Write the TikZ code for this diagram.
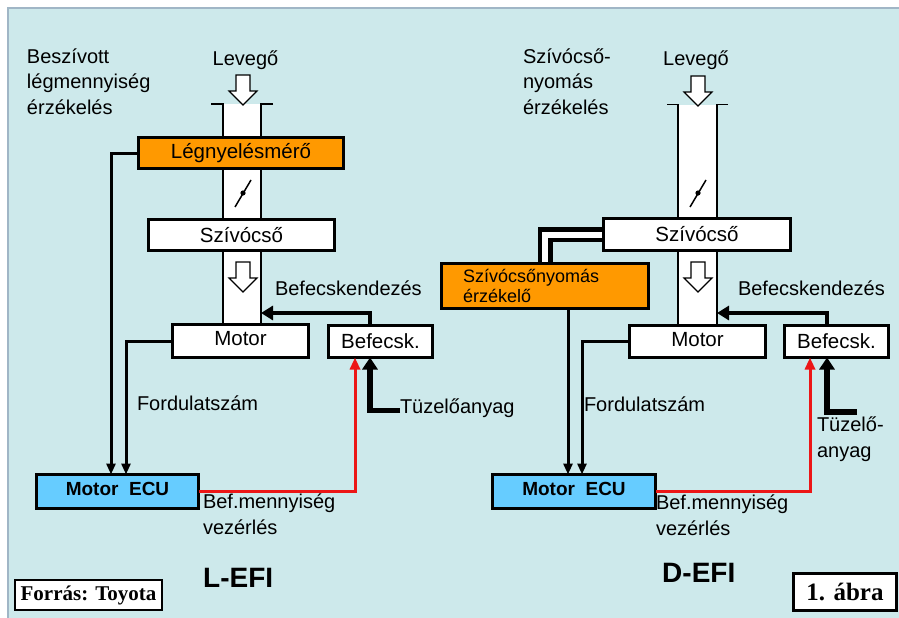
\documentclass[tikz,border=0pt]{standalone}
\usepackage{fontspec}
\setmainfont{Liberation Sans}
\newfontfamily\srcfont{Liberation Serif}
\usetikzlibrary{arrows.meta}

\newlength{\du}
\setlength{\du}{1pt}

\definecolor{bgcyan}{RGB}{205,233,235}
\definecolor{framegray}{RGB}{160,182,198}
\definecolor{meterorange}{RGB}{255,153,0}
\definecolor{ecublue}{RGB}{102,204,255}
\definecolor{ctrlred}{RGB}{236,22,22}

\newcommand{\txtfont}{\fontsize{20}{25.5}\selectfont}
\newcommand{\boxfont}{\fontsize{20.5}{25}\selectfont}
\newcommand{\sensfont}{\fontsize{18}{20}\selectfont}
\newcommand{\ecufont}{\fontsize{19}{22}\selectfont\bfseries}
\newcommand{\titlefont}{\fontsize{28}{30}\selectfont\bfseries}

% hollow air arrow, #1 = x of axis, #2 = y of top
\newcommand{\airarrow}[2]{%
\begin{scope}[shift={(#1\du,#2\du)}]
\draw[airflow] (-7\du,0\du)--(7\du,0\du)--(7\du,16\du)--(14\du,16\du)--(0\du,30\du)--(-14\du,16\du)--(-7\du,16\du)--cycle;
\end{scope}}

\tikzset{
  unitbox/.style={draw=black, line width=3\du, rectangle, inner sep=0pt, outer sep=0pt, font=\boxfont},
  pipe/.style={fill=white, rectangle, inner sep=0pt, outer sep=0pt},
  pipewall/.style={draw=black, line width=1.3\du},
  airflow/.style={fill=white, draw=black, line width=1.2\du, line join=miter},
  txt/.style={inner sep=0pt, outer sep=0pt, font=\txtfont, align=left},
  wire/.style={draw=black, line width=3\du, -{Triangle[length=11pt,width=9pt]}},
  feed/.style={draw=black, line width=4.5\du, -{Triangle[length=12pt,width=14pt]}},
  fuel/.style={draw=black, line width=5.5\du, -{Triangle[length=12pt,width=15pt]}},
  ctrl/.style={draw=ctrlred, line width=3\du, -{Triangle[length=12pt,width=10pt]}},
  sourcebox/.style={draw=black, fill=white, line width=2\du, inner sep=0pt, outer sep=0pt}
}

\begin{document}
\begin{tikzpicture}[even odd rule]
\pgftransformxscale{1.000000}
\pgftransformyscale{-1.000000}
\useasboundingbox (0\du,0\du) rectangle (899\du,618\du);
% background
\fill[white] (0\du,0\du) rectangle (899\du,618\du);
\fill[bgcyan] (8\du,8\du) rectangle (899\du,618\du);
\draw[framegray, line width=2\du] (8\du,618\du) -- (8\du,8\du) -- (899\du,8\du);

%%% L-EFI
\node[pipe, minimum width=38\du, minimum height=219\du] (pipeL) at (242\du,213.5\du) {};
\draw[pipewall] ([xshift=-12\du]pipeL.north west) -- (pipeL.north west) -- (pipeL.south west);
\draw[pipewall] ([xshift=12\du]pipeL.north east) -- (pipeL.north east) -- (pipeL.south east);
\airarrow{243}{75}
\airarrow{243}{262}
\draw[line width=1.5\du] (235\du,207\du) -- (251\du,180\du);
\fill (243\du,193\du) circle (2.6\du);

\node[unitbox, fill=meterorange, minimum width=205\du, minimum height=31\du] (meterL) at (241\du,153\du) {Légnyelésmérő};
\node[unitbox, fill=white, minimum width=186\du, minimum height=31\du] (manL) at (241.5\du,235\du) {Szívócső\hspace{6\du}};
\node[unitbox, fill=white, minimum width=136\du, minimum height=33\du] (motorL) at (240.5\du,341\du) {\raisebox{5\du}{Motor}\hspace{8\du}};
\node[unitbox, fill=white, minimum width=104\du, minimum height=32\du] (injL) at (380.5\du,341.5\du) {Befecsk.};
\node[unitbox, fill=ecublue, minimum width=162\du, minimum height=34\du, font=\ecufont] (ecuL) at (117.5\du,491.5\du) {\raisebox{5\du}{Motor\ \ ECU}\hspace{6\du}};

\coordinate (intakeL) at (261\du,313\du);
\node[txt, anchor=base west] (fuelL) at (400\du,413\du) {Tüzelőanyag};

\draw[wire] (meterL.west) -| ([xshift=-6.5\du]ecuL.north);
\draw[wire] (motorL.west) -| ([xshift=8.5\du]ecuL.north);
\draw[feed] ([xshift=-10.5\du]injL.north) |- (intakeL);
\draw[ctrl] (ecuL.east) -| ([xshift=-25.5\du]injL.south);
\draw[fuel] ([yshift=3\du]fuelL.west) -| ([xshift=-10.5\du]injL.south);

% multi-line texts: base = last line
\node[txt, anchor=base west] (senseL) at (27\du,114\du) {Beszívott\\légmennyiség\\érzékelés};
\node[txt, anchor=base] (airL) at (245.5\du,66\du) {Levegő};
\node[txt, anchor=base west] (injtxtL) at (275\du,295\du) {Befecskendezés};
\node[txt, anchor=base west] (rpmL) at (137\du,410\du) {Fordulatszám};
\node[txt, anchor=base west] (qtyL) at (203\du,534\du) {Bef.mennyiség\\vezérlés};
\node[inner sep=0pt, font=\titlefont, anchor=base west] (titleL) at (203\du,587\du) {L-EFI};

%%% D-EFI
\node[pipe, minimum width=39\du, minimum height=219\du] (pipeR) at (697.5\du,214\du) {};
\draw[pipewall] ([xshift=-11\du]pipeR.north west) -- (pipeR.north west) -- (pipeR.south west);
\draw[pipewall] ([xshift=11\du]pipeR.north east) -- (pipeR.north east) -- (pipeR.south east);
\airarrow{698}{76}
\airarrow{698}{262}
\draw[line width=1.5\du] (690\du,207\du) -- (706\du,180\du);
\fill (698\du,193\du) circle (2.6\du);

\node[unitbox, fill=white, minimum width=187\du, minimum height=32\du] (manR) at (697\du,234.5\du) {Szívócső\hspace{6\du}};
\node[unitbox, fill=meterorange, minimum width=207\du, minimum height=45\du, text width=164\du, align=left, font=\sensfont] (sensR) at (545\du,286\du) {Szívócsőnyomás\\érzékelő};
\node[unitbox, fill=white, minimum width=136\du, minimum height=32\du] (motorR) at (697.5\du,341.5\du) {\raisebox{5\du}{Motor}\hspace{29\du}};
\node[unitbox, fill=white, minimum width=104\du, minimum height=32\du] (injR) at (836.5\du,341.5\du) {Befecsk.\hspace{14\du}};
\node[unitbox, fill=ecublue, minimum width=163\du, minimum height=34\du, font=\ecufont] (ecuR) at (574\du,491.5\du) {\raisebox{5\du}{Motor\ \ ECU}\hspace{21\du}};

% pressure tube
\draw[line width=15\du, line join=miter] (manR.west) -| (sensR.north);
\draw[white, line width=6\du, line join=miter, shorten <=1.5\du, shorten >=1.5\du] (manR.west) -| (sensR.north);

\coordinate (intakeR) at (717\du,313\du);
\coordinate (fuelR) at (857\du,412\du);

\draw[wire] ([xshift=23\du]sensR.south) -- ([xshift=-6\du]ecuR.north);
\draw[wire] (motorR.west) -| ([xshift=8\du]ecuR.north);
\draw[feed] ([xshift=-9.5\du]injR.north) |- (intakeR);
\draw[ctrl] (ecuR.east) -| ([xshift=-26.5\du]injR.south);
\draw[fuel] (fuelR) -| ([xshift=-9.5\du]injR.south);

\node[txt, anchor=base west] (senseR) at (523\du,114\du) {Szívócső-\\nyomás\\érzékelés};
\node[txt, anchor=base] (airR) at (696\du,66\du) {Levegő};
\node[txt, anchor=base west] (injtxtR) at (738\du,295\du) {Befecskendezés};
\node[txt, anchor=base west] (rpmR) at (584\du,411\du) {Fordulatszám};
\node[txt, anchor=base west] (fueltxtR) at (817\du,457\du) {Tüzelő-\\anyag};
\node[txt, anchor=base west] (qtyR) at (656\du,535\du) {Bef.mennyiség\\vezérlés};
\node[inner sep=0pt, font=\titlefont, anchor=base west] (titleR) at (662\du,582\du) {D-EFI};

%%% captions
\node[sourcebox, minimum width=147\du, minimum height=30\du, font=\srcfont\fontsize{21}{22}\selectfont\bfseries] (source) at (88.5\du,595\du) {Forrás: Toyota};
\node[sourcebox, line width=2.5\du, minimum width=103\du, minimum height=37\du, font=\srcfont\fontsize{25}{27}\selectfont\bfseries] (figno) at (845\du,592\du) {1. ábra};
\end{tikzpicture}
\end{document}
